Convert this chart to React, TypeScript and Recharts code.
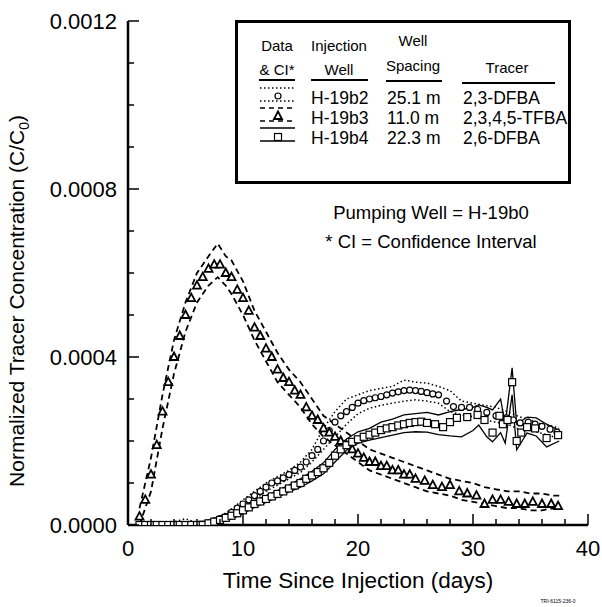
import { ComposedChart, Line, Scatter, XAxis, YAxis, Label } from "recharts";

const FONT = '"Liberation Sans", Arial, Helvetica, sans-serif';

const xTicks = [0, 2, 4, 6, 8, 10, 12, 14, 16, 18, 20, 22, 24, 26, 28, 30, 32, 34, 36, 38, 40];
const yTicks = [0, 0.0001, 0.0002, 0.0003, 0.0004, 0.0005, 0.0006, 0.0007, 0.0008, 0.0009, 0.001, 0.0011, 0.0012];

// H-19b2, 2,3-DFBA (circles, dotted CI)
const b2Days = [
  1.0, 1.5, 2.0, 2.5, 3.0, 3.5, 4.0, 4.5, 5.0, 5.5, 6.0, 6.5,
  7.0, 7.5, 8.0, 8.5, 9.0, 9.5, 10.0, 10.5, 11.0, 11.5, 12.0, 12.5, 13.0, 13.5, 14.0, 14.5,
  15.0, 15.5, 16.0, 16.5, 17.0, 17.5, 18.0, 18.5, 19.0, 19.5, 20.0, 20.5, 21.0, 21.5, 22.0,
  22.5, 23.0, 23.5, 24.0, 24.5, 25.0, 25.5, 26.0, 26.5, 27.0,
  27.7, 28.3, 29.0, 29.7, 30.4, 31.2, 32.0, 32.9, 33.5, 34.1, 34.8, 35.4, 36.0, 36.7, 37.3,
];
const b2Conc = [
  0, 0, 0, 0, 0, 0, 0, 0, 0, 0, 0, 0,
  0.000005, 0.00001, 0.000015, 0.00002, 0.00003, 0.00004, 0.00005, 0.00006, 0.00007, 0.00008, 0.00009, 0.0001, 0.000105, 0.000112, 0.00012, 0.00013,
  0.000138, 0.00015, 0.000165, 0.00018, 0.0002, 0.000225, 0.000245, 0.00026, 0.00027, 0.00028, 0.00029, 0.000296, 0.0003, 0.000303, 0.000306,
  0.00031, 0.000314, 0.000317, 0.00032, 0.000321, 0.00032, 0.000318, 0.000315, 0.000312, 0.00031,
  0.000295, 0.000282, 0.00028, 0.00028, 0.000275, 0.000268, 0.00026, 0.000255, 0.00025, 0.000243, 0.000245, 0.00024, 0.000235, 0.000228, 0.000221,
];
const b2CiDays = [1, 3, 5, 6, 7, 8, 9, 10, 11, 12, 13, 14, 15, 16, 17, 18, 19, 20, 21, 22, 23, 24, 25, 26, 27, 28, 29, 30, 31, 32, 33, 34, 35, 36, 37, 37.5];
const b2Upper = [
  0, 0, 0.000015, 0.000005, 0.00001, 0.00002, 0.000038, 0.00006, 0.00008, 0.0001, 0.000115, 0.00013, 0.00015, 0.00018,
  0.00023, 0.00027, 0.0003, 0.00031, 0.00032, 0.000325, 0.00033, 0.000345, 0.00034, 0.000338, 0.00033, 0.00032,
  0.000295, 0.00029, 0.000285, 0.00028, 0.00027, 0.000258, 0.00025, 0.00024, 0.000235, 0.00023,
];
const b2Lower = [
  0, 0, 0, 0, 0, 0.00001, 0.00002, 0.00004, 0.00006, 0.00008, 0.000095, 0.00011, 0.000125, 0.00015,
  0.00018, 0.00021, 0.00024, 0.000265, 0.000278, 0.000285, 0.00029, 0.000295, 0.000298, 0.000295, 0.00029, 0.00027,
  0.000262, 0.000258, 0.00025, 0.000245, 0.00024, 0.000228, 0.000225, 0.000218, 0.00021, 0.000205,
];

// H-19b3, 2,3,4,5-TFBA (triangles, dashed CI)
const b3Days = [
  1.0, 1.5, 2.0, 2.5, 3.0, 3.5, 4.0, 4.5, 5.0, 5.5, 6.0, 6.5, 7.0, 7.5, 8.0, 8.5, 9.0, 9.5,
  10.0, 10.5, 11.0, 11.5, 12.0, 12.5, 13.0, 13.5, 14.0, 14.5, 15.0, 15.5, 16.0, 16.5, 17.0,
  17.5, 18.0, 18.5, 19.0, 19.5, 20.0, 20.5, 21.0, 21.5, 22.0, 22.5, 23.0, 23.5, 24.0, 24.5, 25.0,
  25.8, 26.5, 27.3, 28.0, 28.8, 29.5, 30.3, 31.0, 31.7, 32.4, 33.1, 33.8, 34.5, 35.2, 36.0, 36.8, 37.4,
];
const b3Conc = [
  0.00002, 0.00006, 0.00012, 0.00019, 0.00027, 0.00034, 0.0004, 0.00045, 0.0005, 0.00054, 0.00057, 0.00059, 0.00061, 0.00062, 0.00062, 0.0006, 0.00059, 0.00056,
  0.00054, 0.00051, 0.00047, 0.00045, 0.00042, 0.0004, 0.00037, 0.00035, 0.00034, 0.00032, 0.00031, 0.00028, 0.00026, 0.00025, 0.00023,
  0.00022, 0.00021, 0.0002, 0.00019, 0.00018, 0.00017, 0.00016, 0.00015, 0.00015, 0.00014, 0.00014, 0.00013, 0.00013, 0.00012, 0.00012, 0.00011,
  0.000105, 0.000095, 0.00009, 0.000095, 0.00008, 0.000075, 0.00007, 0.00005, 0.00006, 0.00006, 0.000055, 0.00005, 0.00005, 0.000055, 0.00005, 0.00005, 0.000045,
];
const b3CiDays = [1, 2, 3, 4, 5, 6, 7, 7.8, 8.5, 9, 10, 11, 12, 13, 14, 15, 16, 17, 18, 19, 20, 21, 22, 23, 24, 25, 26, 27, 28, 29, 30, 31, 32, 33, 34, 35, 36, 37, 37.5];
const b3Upper = [
  0.00004, 0.00016, 0.00031, 0.00044, 0.00053, 0.0006, 0.00064, 0.00067, 0.00064, 0.00063, 0.00058, 0.00051, 0.00046,
  0.00041, 0.00037, 0.00034, 0.0003, 0.00026, 0.00024, 0.00022, 0.0002, 0.00018, 0.00017, 0.00016, 0.00015, 0.00014,
  0.00013, 0.00012, 0.00011, 0.000105, 0.0001, 0.00009, 0.000085, 0.00008, 0.00008, 0.000075, 0.000075, 0.00007, 0.00007,
];
const b3Lower = [
  0, 0.00008, 0.00023, 0.00036, 0.00046, 0.00053, 0.00057, 0.00059, 0.00057, 0.00055, 0.0005, 0.00044, 0.00039,
  0.00034, 0.00031, 0.00028, 0.00024, 0.00021, 0.00019, 0.00017, 0.00015, 0.00013, 0.00012, 0.00011, 0.0001, 0.00009,
  0.00008, 0.000075, 0.00007, 0.00006, 0.000055, 0.00005, 0.000045, 0.00004, 0.00004, 0.000035, 0.000035, 0.00004, 0.00004,
];

// H-19b4, 2,6-DFBA (squares, solid CI)
const b4Days = [
  1.0, 1.5, 2.0, 2.5, 3.0, 3.5, 4.0, 4.5, 5.0, 5.5, 6.0, 6.5,
  7.0, 7.5, 8.0, 8.5, 9.0, 9.5, 10.0, 10.5, 11.0, 11.5, 12.0, 12.5, 13.0, 13.5, 14.0, 14.5,
  15.0, 15.5, 16.0, 16.5, 17.0, 17.5, 18.0, 18.5, 19.0, 19.5, 20.0, 20.5, 21.0, 21.5, 22.0,
  22.5, 23.0, 23.5, 24.0, 24.5, 25.0, 25.5, 26.0,
  26.7, 27.4, 28.0, 28.6, 29.5, 30.4, 31.0, 31.7, 32.3, 32.6, 33.0, 33.4, 33.8, 34.2, 34.7, 35.4, 36.4, 37.4,
];
const b4Conc = [
  0, 0, 0, 0, 0, 0, 0, 0, 0, 0, 0, 0,
  0.000004, 0.000008, 0.000012, 0.000017, 0.000022, 0.000028, 0.000035, 0.000042, 0.00005, 0.000056, 0.000062, 0.000068, 0.000074, 0.00008, 0.000087, 0.000094,
  0.0001, 0.00011, 0.000118, 0.000126, 0.000135, 0.000148, 0.000165, 0.00018, 0.00019, 0.000198, 0.000204, 0.00021, 0.000215, 0.00022, 0.000226,
  0.00023, 0.000233, 0.000237, 0.00024, 0.000243, 0.000245, 0.000246, 0.000243,
  0.00024, 0.000233, 0.000245, 0.000255, 0.000257, 0.000262, 0.00025, 0.00022, 0.00026, 0.00024, 0.00025, 0.00034, 0.0002, 0.00022, 0.000233, 0.00023, 0.000207, 0.000214,
];
const b4CiDays = [1, 7, 8, 9, 10, 11, 12, 13, 14, 15, 16, 17, 18, 19, 20, 21, 22, 23, 24, 25, 26, 27, 28, 29, 30, 30.5, 31.2, 31.7, 32.4, 32.8, 33.4, 33.8, 34.7, 35.5, 36.4, 37.5];
const b4Upper = [
  0, 0.00001, 0.00002, 0.00003, 0.000043, 0.000058, 0.00007, 0.000082, 0.000095, 0.00011, 0.000128, 0.000148,
  0.00018, 0.000205, 0.000222, 0.00023, 0.000245, 0.000252, 0.000262, 0.000265, 0.000268, 0.000262, 0.00027, 0.000275,
  0.00028, 0.000286, 0.00028, 0.000274, 0.0003, 0.00024, 0.000374, 0.00024, 0.000257, 0.000255, 0.00024, 0.000225,
];
const b4Lower = [
  0, 0, 0.000005, 0.000014, 0.000027, 0.000042, 0.000054, 0.000066, 0.000079, 0.00009, 0.000105, 0.000122,
  0.00015, 0.000178, 0.000195, 0.000202, 0.000208, 0.000214, 0.00022, 0.000222, 0.000221, 0.000215, 0.000212, 0.00021,
  0.000225, 0.000238, 0.00021, 0.000198, 0.00022, 0.000195, 0.00031, 0.000179, 0.000219, 0.000212, 0.000186, 0.0002,
];

const zip = (days: number[], vals: number[]) => days.map((t, i) => ({ t, c: vals[i] }));

const isMajorX = (v: number) => v % 10 === 0;
const isMajorY = (v: number) => Math.round(v * 10000) % 4 === 0;

const BottomTick = ({ x, y, payload }: any) => (
  <g>
    <line x1={x} y1={y} x2={x} y2={y - (isMajorX(payload.value) ? 11 : 6)} stroke="#000" strokeWidth={1.5} />
    {isMajorX(payload.value) && (
      <text x={x} y={y + 31} textAnchor="middle" fontSize={22} fontFamily={FONT} fill="#000">
        {payload.value}
      </text>
    )}
  </g>
);

const TopTick = ({ x, y, payload }: any) => (
  <line x1={x} y1={y} x2={x} y2={y + (isMajorX(payload.value) ? 11 : 6)} stroke="#000" strokeWidth={1.5} />
);

const LeftTick = ({ x, y, payload }: any) => (
  <g>
    <line x1={x} y1={y} x2={x + (isMajorY(payload.value) ? 11 : 6)} y2={y} stroke="#000" strokeWidth={1.5} />
    {isMajorY(payload.value) && (
      <text x={x - 11} y={y + 8} textAnchor="end" fontSize={22} fontFamily={FONT} fill="#000">
        {payload.value.toFixed(4)}
      </text>
    )}
  </g>
);

const RightTick = ({ x, y, payload }: any) => (
  <line x1={x} y1={y} x2={x - (isMajorY(payload.value) ? 11 : 6)} y2={y} stroke="#000" strokeWidth={1.5} />
);

const XTitle = ({ viewBox }: any) => (
  <text x={viewBox.x + viewBox.width / 2} y={588} textAnchor="middle" fontSize={22.5} fontFamily={FONT} fill="#000">
    Time Since Injection (days)
  </text>
);

const YTitle = ({ viewBox }: any) => {
  const cx = 24;
  const cy = viewBox.y + viewBox.height / 2 + 28;
  return (
    <text x={cx} y={cy} transform={`rotate(-90 ${cx} ${cy})`} textAnchor="middle" fontSize={21} fontFamily={FONT} fill="#000">
      Normalized Tracer Concentration (C/C
      <tspan fontSize={14} dy={5}>0</tspan>
      <tspan dy={-5}>)</tspan>
    </text>
  );
};

const CircleMark = ({ cx, cy }: any) => <circle cx={cx} cy={cy} r={3} fill="#fff" stroke="#000" strokeWidth={1.2} />;
const TriangleMark = ({ cx, cy }: any) => (
  <polygon points={`${cx},${cy - 4.5} ${cx + 4},${cy + 3} ${cx - 4},${cy + 3}`} fill="#fff" stroke="#000" strokeWidth={1.8} />
);
const SquareMark = ({ cx, cy }: any) => (
  <rect x={cx - 3.5} y={cy - 3.5} width={7} height={7} fill="#fff" stroke="#000" strokeWidth={1.2} />
);

const DOTTED = "1.5 2.5";
const DASHED = "6 4";

const LegendBox = () => (
  <g fontFamily={FONT} fill="#000">
    <rect x={236.5} y={21.5} width={333} height={161} fill="#fff" stroke="#000" strokeWidth={3} />
    <g fontSize={15} textAnchor="middle">
      <text x={277} y={51}>Data</text>
      <text x={277} y={75}>&amp; CI*</text>
      <text x={339} y={51}>Injection</text>
      <text x={339} y={75}>Well</text>
      <text x={413} y={46}>Well</text>
      <text x={413} y={71}>Spacing</text>
      <text x={507} y={73}>Tracer</text>
    </g>
    <line x1={259} y1={80} x2={295} y2={80} stroke="#000" strokeWidth={2} />
    <line x1={311} y1={80} x2={368} y2={80} stroke="#000" strokeWidth={2} />
    <line x1={386} y1={81} x2={442} y2={81} stroke="#000" strokeWidth={2} />
    <line x1={462} y1={83} x2={555} y2={83} stroke="#000" strokeWidth={2} />

    <line x1={260} y1={88} x2={295} y2={88} stroke="#000" strokeWidth={1.5} strokeDasharray={DOTTED} />
    <line x1={260} y1={101} x2={295} y2={101} stroke="#000" strokeWidth={1.5} strokeDasharray={DOTTED} />
    <CircleMark cx={278} cy={96} />
    <line x1={260} y1={108} x2={295} y2={108} stroke="#000" strokeWidth={1.5} strokeDasharray="5 4" />
    <line x1={260} y1={121} x2={295} y2={121} stroke="#000" strokeWidth={1.5} strokeDasharray="5 4" />
    <TriangleMark cx={278} cy={116} />
    <line x1={260} y1={128} x2={295} y2={128} stroke="#000" strokeWidth={1.5} />
    <line x1={260} y1={141} x2={295} y2={141} stroke="#000" strokeWidth={1.5} />
    <SquareMark cx={278} cy={137} />

    <g fontSize={17.5}>
      <text x={311} y={104}>H-19b2</text>
      <text x={387} y={104}>25.1 m</text>
      <text x={463} y={104}>2,3-DFBA</text>
      <text x={311} y={124}>H-19b3</text>
      <text x={387} y={124}>11.0 m</text>
      <text x={463} y={124}>2,3,4,5-TFBA</text>
      <text x={311} y={144}>H-19b4</text>
      <text x={387} y={144}>22.3 m</text>
      <text x={463} y={144}>2,6-DFBA</text>
    </g>
  </g>
);

export default function App() {
  return (
    <div style={{ position: "absolute", left: 0, top: 0, width: 602, height: 607, background: "#fff" }}>
      <ComposedChart width={602} height={607} margin={{ top: 21, right: 14, bottom: 22, left: 0 }}>
        <XAxis
          dataKey="t"
          type="number"
          domain={[0, 40]}
          ticks={xTicks}
          interval={0}
          height={60}
          tickSize={0}
          tickMargin={0}
          tick={<BottomTick />}
          axisLine={{ stroke: "#000", strokeWidth: 2.5 }}
          allowDataOverflow
        >
          <Label content={<XTitle />} />
        </XAxis>
        <XAxis
          xAxisId="top"
          orientation="top"
          type="number"
          domain={[0, 40]}
          ticks={xTicks}
          interval={0}
          height={0}
          tickSize={0}
          tickMargin={0}
          tick={<TopTick />}
          axisLine={{ stroke: "#000", strokeWidth: 2.5 }}
          allowDataOverflow
        />
        <YAxis
          dataKey="c"
          type="number"
          domain={[0, 0.0012]}
          ticks={yTicks}
          interval={0}
          width={128}
          tickSize={0}
          tickMargin={0}
          tick={<LeftTick />}
          axisLine={{ stroke: "#000", strokeWidth: 2.5 }}
          allowDataOverflow
        >
          <Label content={<YTitle />} />
        </YAxis>
        <YAxis
          yAxisId="right"
          orientation="right"
          type="number"
          domain={[0, 0.0012]}
          ticks={yTicks}
          interval={0}
          width={0}
          tickSize={0}
          tickMargin={0}
          tick={<RightTick />}
          axisLine={{ stroke: "#000", strokeWidth: 2.5 }}
          allowDataOverflow
        />

        <Line data={zip(b2CiDays, b2Upper)} dataKey="c" type="linear" stroke="#000" strokeWidth={1.5} strokeDasharray={DOTTED} dot={false} isAnimationActive={false} />
        <Line data={zip(b2CiDays, b2Lower)} dataKey="c" type="linear" stroke="#000" strokeWidth={1.5} strokeDasharray={DOTTED} dot={false} isAnimationActive={false} />
        <Line data={zip(b3CiDays, b3Upper)} dataKey="c" type="linear" stroke="#000" strokeWidth={1.8} strokeDasharray={DASHED} dot={false} isAnimationActive={false} />
        <Line data={zip(b3CiDays, b3Lower)} dataKey="c" type="linear" stroke="#000" strokeWidth={1.8} strokeDasharray={DASHED} dot={false} isAnimationActive={false} />
        <Line data={zip(b4CiDays, b4Upper)} dataKey="c" type="linear" stroke="#000" strokeWidth={1.3} dot={false} isAnimationActive={false} />
        <Line data={zip(b4CiDays, b4Lower)} dataKey="c" type="linear" stroke="#000" strokeWidth={1.3} dot={false} isAnimationActive={false} />

        <Scatter data={zip(b2Days, b2Conc)} dataKey="c" shape={<CircleMark />} isAnimationActive={false} />
        <Scatter data={zip(b3Days, b3Conc)} dataKey="c" shape={<TriangleMark />} isAnimationActive={false} />
        <Scatter data={zip(b4Days, b4Conc)} dataKey="c" shape={<SquareMark />} isAnimationActive={false} />
      </ComposedChart>

      <svg width={602} height={607} style={{ position: "absolute", left: 0, top: 0, pointerEvents: "none" }}>
        <LegendBox />
        <g fontFamily={FONT} fontSize={18.5} textAnchor="middle" fill="#000">
          <text x={431} y={219}>Pumping Well = H-19b0</text>
          <text x={431} y={248}>* CI = Confidence Interval</text>
        </g>
        <text x={558} y={603} fontFamily={FONT} fontSize={5} textAnchor="middle" fill="#000">TRI-6115-236-0</text>
      </svg>
    </div>
  );
}
